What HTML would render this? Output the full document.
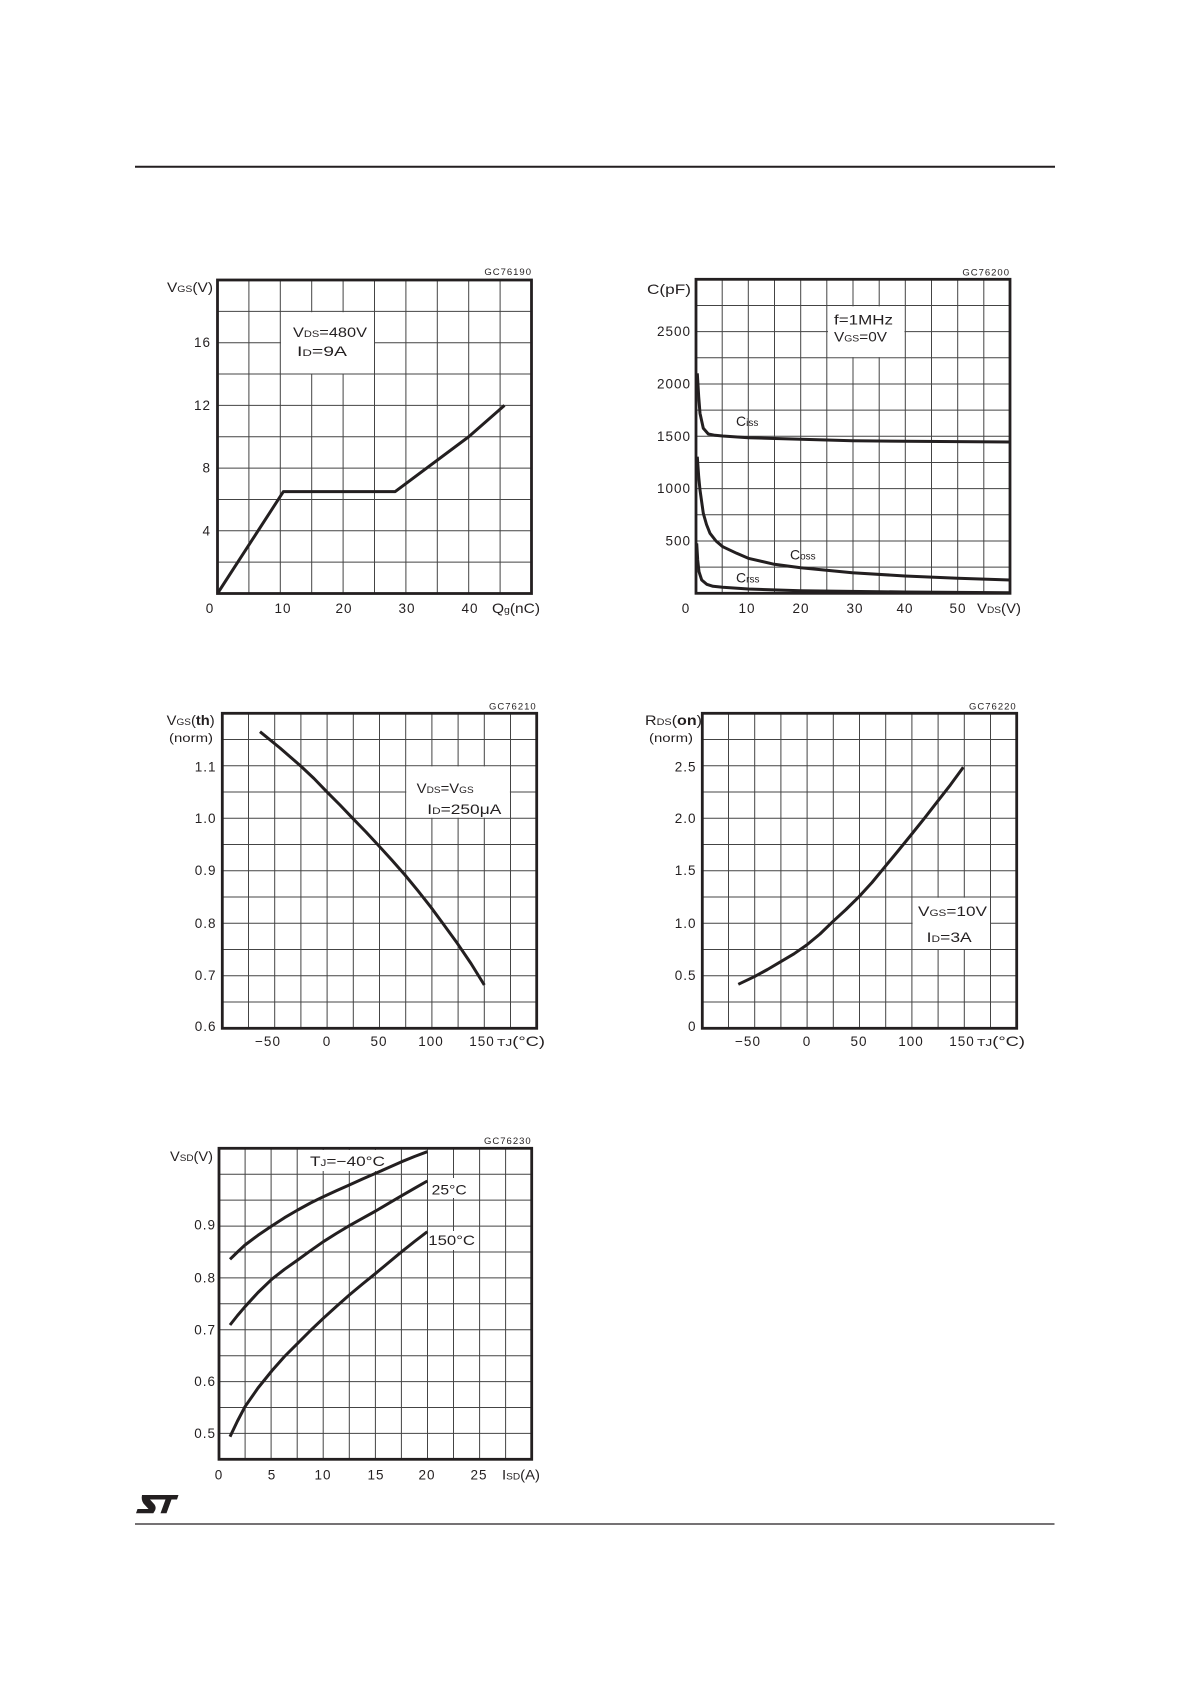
<!DOCTYPE html>
<html><head><meta charset="utf-8"><style>
html,body{margin:0;padding:0;background:#fff;}
svg{display:block;}
text{font-family:"Liberation Sans",Arial,sans-serif;fill:#231f20;}
.t{font-size:13.5px;letter-spacing:1px;}
.l{font-size:14px;}
.a{font-size:14px;}
.gc{font-size:9.5px;letter-spacing:1px;}
.g{stroke:#444;stroke-width:1;fill:none;}
.f{stroke:#231f20;stroke-width:2.8;fill:none;}
.c{stroke:#231f20;stroke-width:3;fill:none;stroke-linejoin:round;stroke-linecap:butt;}
</style></head><body>
<svg width="1191" height="1685" viewBox="0 0 1191 1685" xmlns="http://www.w3.org/2000/svg">
<rect width="1191" height="1685" fill="#fff"/>
<line x1="135" y1="166.7" x2="1055" y2="166.7" stroke="#231f20" stroke-width="2"/>
<line x1="135" y1="1524" x2="1054.5" y2="1524" stroke="#231f20" stroke-width="1.2"/>
<path d="M142,1495 L178.5,1495 L177,1499.5 L171.5,1499.5 L166.5,1513.3 L160.5,1513.3 L165.5,1499.5 L160,1499.5 L150,1499.5 L154.5,1504.5 Q156.5,1507.5 155,1510.5 L153.3,1513.3 L136,1513.3 L137.5,1509 L148.5,1509 L143.5,1503.5 Q141,1500 142,1495 Z" fill="#231f20"/>

<!-- ============ CHART 1 ============ -->
<path class="g" d="M248.9 280V593.5M280.3 280V593.5M311.7 280V593.5M343.1 280V593.5M374.5 280V593.5M405.9 280V593.5M437.3 280V593.5M468.7 280V593.5M500.1 280V593.5M217.5 311.35H531.5M217.5 342.7H531.5M217.5 374.05H531.5M217.5 405.4H531.5M217.5 436.75H531.5M217.5 468.1H531.5M217.5 499.45H531.5M217.5 530.8H531.5M217.5 562.15H531.5"/>
<rect x="281" y="312.2" width="93" height="61.3" fill="#fff"/>
<rect class="f" x="217.5" y="280" width="314" height="313.5"/>
<polyline class="c" points="217.5,593.5 283.4,491.6 395.2,491.6 468.7,436.75 504.5,405.4"/>
<text class="a" x="293" y="337" textLength="74" lengthAdjust="spacingAndGlyphs">V<tspan font-size="9.5">DS</tspan>=480V</text>
<text class="a" x="297" y="356" textLength="50" lengthAdjust="spacingAndGlyphs">I<tspan font-size="9.5">D</tspan>=9A</text>
<text class="l" x="167" y="292" textLength="46" lengthAdjust="spacingAndGlyphs">V<tspan font-size="9.5">GS</tspan>(V)</text>
<text class="gc" x="532" y="275" text-anchor="end">GC76190</text>
<g class="t" text-anchor="end">
<text x="211" y="347">16</text><text x="211" y="410">12</text><text x="211" y="472.5">8</text><text x="211" y="535.3">4</text>
</g>
<g class="t" text-anchor="middle">
<text x="210" y="613">0</text><text x="283" y="613">10</text><text x="344" y="613">20</text><text x="407" y="613">30</text><text x="470" y="613">40</text>
</g>
<text class="l" x="492" y="613" textLength="48" lengthAdjust="spacingAndGlyphs">Q<tspan font-size="9.5">g</tspan>(nC)</text>

<!-- ============ CHART 2 ============ -->
<path class="g" d="M722.2 279.3V593.3M748.3 279.3V593.3M774.5 279.3V593.3M800.7 279.3V593.3M826.8 279.3V593.3M853 279.3V593.3M879.2 279.3V593.3M905.3 279.3V593.3M931.5 279.3V593.3M957.7 279.3V593.3M983.8 279.3V593.3M696 305.5H1010M696 331.6H1010M696 357.8H1010M696 384H1010M696 410.1H1010M696 436.3H1010M696 462.5H1010M696 488.6H1010M696 514.8H1010M696 541H1010M696 567.1H1010"/>
<rect x="828" y="306.3" width="76.5" height="50.8" fill="#fff"/>
<rect class="f" x="696" y="279.3" width="314" height="314"/>
<polyline class="c" points="697.3,373.3 698.7,396.7 700,413.3 703.3,428.3 708.3,434 715,435.3 722.7,436 748.3,437.7 800.7,439.3 852.3,440.7 905,441.3 1010,442"/>
<polyline class="c" points="697.3,456.7 698.7,476.7 700,490 703.3,513.3 706.5,524.5 710,533.3 716,541 722.7,546.7 736.7,553.3 748.3,558.3 774.3,564.3 800.7,567.7 852.3,572.7 905,576 957.7,578.3 1010,580"/>
<polyline class="c" points="696.7,543.3 697.7,560 699,571.7 701.7,580 706.7,584.3 713,586.3 722.7,587.3 748.3,589 800.7,590.7 905,592 1010,592.7"/>
<text class="a" x="834" y="324.5" textLength="59" lengthAdjust="spacingAndGlyphs">f=1MHz</text>
<text class="a" x="834" y="341.5" textLength="53" lengthAdjust="spacingAndGlyphs">V<tspan font-size="9.5">GS</tspan>=0V</text>
<text class="a" x="736" y="426">C<tspan font-size="10">iss</tspan></text>
<text class="a" x="790" y="559.5">C<tspan font-size="10">oss</tspan></text>
<text class="a" x="736" y="582.5">C<tspan font-size="10">rss</tspan></text>
<text class="l" x="647" y="294" textLength="44" lengthAdjust="spacingAndGlyphs">C(pF)</text>
<text class="gc" x="1010" y="275.5" text-anchor="end">GC76200</text>
<g class="t" text-anchor="end">
<text x="691" y="336">2500</text><text x="691" y="388.5">2000</text><text x="691" y="441">1500</text><text x="691" y="493">1000</text><text x="691" y="545.5">500</text>
</g>
<g class="t" text-anchor="middle">
<text x="686" y="613">0</text><text x="747" y="613">10</text><text x="801" y="613">20</text><text x="855" y="613">30</text><text x="905" y="613">40</text><text x="958" y="613">50</text>
</g>
<text class="l" x="977" y="613" textLength="44" lengthAdjust="spacingAndGlyphs">V<tspan font-size="9.5">DS</tspan>(V)</text>

<!-- ============ CHART 3 ============ -->
<path class="g" d="M248.5 713.3V1028.3M274.7 713.3V1028.3M300.9 713.3V1028.3M327.1 713.3V1028.3M353.3 713.3V1028.3M379.5 713.3V1028.3M405.7 713.3V1028.3M431.9 713.3V1028.3M458.1 713.3V1028.3M484.3 713.3V1028.3M510.5 713.3V1028.3M222.3 739.55H536.7M222.3 765.8H536.7M222.3 792.05H536.7M222.3 818.3H536.7M222.3 844.55H536.7M222.3 870.8H536.7M222.3 897.05H536.7M222.3 923.3H536.7M222.3 949.55H536.7M222.3 975.8H536.7M222.3 1002.05H536.7"/>
<rect x="406.3" y="766.4" width="103.6" height="51.3" fill="#fff"/>
<rect class="f" x="222.3" y="713.3" width="314.4" height="315"/>
<polyline class="c" points="260,731.7 280,748 300.7,766 314,778.5 326.7,791.7 340,805 352.7,818.3 366,832 379,846 392,860.3 405,875 418,890.8 431,907.3 444,925 457.3,943.3 471,963.5 484.3,985"/>
<text class="a" x="416.7" y="793" textLength="57" lengthAdjust="spacingAndGlyphs">V<tspan font-size="9.5">DS</tspan>=V<tspan font-size="9.5">GS</tspan></text>
<text class="a" x="427.3" y="814" textLength="74" lengthAdjust="spacingAndGlyphs">I<tspan font-size="9.5">D</tspan>=250μA</text>
<text class="l" x="166.7" y="725" textLength="48" lengthAdjust="spacingAndGlyphs">V<tspan font-size="9.5">GS</tspan>(<tspan font-weight="bold">th</tspan>)</text>
<text x="169" y="742" font-size="11.5" textLength="44" lengthAdjust="spacingAndGlyphs">(norm)</text>
<text class="gc" x="536.7" y="709.5" text-anchor="end">GC76210</text>
<g class="t" text-anchor="end">
<text x="216.5" y="771.5">1.1</text><text x="216.5" y="823">1.0</text><text x="216.5" y="875">0.9</text><text x="216.5" y="928">0.8</text><text x="216.5" y="980">0.7</text><text x="216.5" y="1031">0.6</text>
</g>
<g class="t" text-anchor="middle">
<text x="268" y="1046">−50</text><text x="327" y="1046">0</text><text x="379" y="1046">50</text><text x="431" y="1046">100</text><text x="482" y="1046">150</text>
</g>
<text class="l" x="497" y="1046" textLength="48" lengthAdjust="spacingAndGlyphs"><tspan font-size="10.5">TJ</tspan>(°C)</text>

<!-- ============ CHART 4 ============ -->
<path class="g" d="M728.5 713.3V1028.3M754.7 713.3V1028.3M780.9 713.3V1028.3M807.1 713.3V1028.3M833.3 713.3V1028.3M859.5 713.3V1028.3M885.7 713.3V1028.3M911.9 713.3V1028.3M938.1 713.3V1028.3M964.3 713.3V1028.3M990.5 713.3V1028.3M702.3 739.55H1016.7M702.3 765.8H1016.7M702.3 792.05H1016.7M702.3 818.3H1016.7M702.3 844.55H1016.7M702.3 870.8H1016.7M702.3 897.05H1016.7M702.3 923.3H1016.7M702.3 949.55H1016.7M702.3 975.8H1016.7M702.3 1002.05H1016.7"/>
<rect x="912.6" y="897.7" width="77.4" height="51.3" fill="#fff"/>
<rect class="f" x="702.3" y="713.3" width="314.4" height="315"/>
<polyline class="c" points="738.3,984.3 754.3,976.7 767.5,969.5 780.7,961.7 794,953.8 806.7,945 820,934 832.7,921.7 846,909.5 859,896.7 872,882.5 885,866.7 898,851 911,835 924,818.8 937.3,801.7 950.5,784.8 963.3,767.3"/>
<text class="a" x="918" y="916" textLength="69" lengthAdjust="spacingAndGlyphs">V<tspan font-size="9.5">GS</tspan>=10V</text>
<text class="a" x="926.7" y="942" textLength="45" lengthAdjust="spacingAndGlyphs">I<tspan font-size="9.5">D</tspan>=3A</text>
<text class="l" x="645" y="725" textLength="57" lengthAdjust="spacingAndGlyphs">R<tspan font-size="9.5">DS</tspan>(<tspan font-weight="bold">on</tspan>)</text>
<text x="649" y="742" font-size="11.5" textLength="44" lengthAdjust="spacingAndGlyphs">(norm)</text>
<text class="gc" x="1016.7" y="709.5" text-anchor="end">GC76220</text>
<g class="t" text-anchor="end">
<text x="696.5" y="771.5">2.5</text><text x="696.5" y="823">2.0</text><text x="696.5" y="875">1.5</text><text x="696.5" y="928">1.0</text><text x="696.5" y="980">0.5</text><text x="696.5" y="1031">0</text>
</g>
<g class="t" text-anchor="middle">
<text x="748" y="1046">−50</text><text x="807" y="1046">0</text><text x="859" y="1046">50</text><text x="911" y="1046">100</text><text x="962" y="1046">150</text>
</g>
<text class="l" x="977" y="1046" textLength="48" lengthAdjust="spacingAndGlyphs"><tspan font-size="10.5">TJ</tspan>(°C)</text>

<!-- ============ CHART 5 ============ -->
<path class="g" d="M245.1 1148.3V1459.3M271.1 1148.3V1459.3M297.2 1148.3V1459.3M323.2 1148.3V1459.3M349.3 1148.3V1459.3M375.4 1148.3V1459.3M401.4 1148.3V1459.3M427.5 1148.3V1459.3M453.5 1148.3V1459.3M479.6 1148.3V1459.3M505.6 1148.3V1459.3M219 1174.2H531.7M219 1200.1H531.7M219 1226.1H531.7M219 1252H531.7M219 1277.9H531.7M219 1303.8H531.7M219 1329.8H531.7M219 1355.7H531.7M219 1381.6H531.7M219 1407.5H531.7M219 1433.4H531.7"/>
<rect x="306" y="1150" width="80" height="21" fill="#fff"/>
<rect x="430" y="1178" width="38" height="20" fill="#fff"/>
<rect x="429" y="1231" width="47" height="19" fill="#fff"/>
<rect class="f" x="219" y="1148.3" width="312.7" height="311"/>
<polyline class="c" points="230,1259.3 237.5,1252 245,1245 258,1235.3 271.7,1226 284.5,1217.7 297.7,1210 310.5,1203 323.3,1196.7 336.3,1190.8 349.3,1185 362.5,1179 375.7,1173.3 388.7,1167.5 401.7,1161.7 414.5,1156.5 427.3,1151.7"/>
<polyline class="c" points="230,1325 237.5,1315.5 245,1306.7 258,1292.5 271.7,1279.3 284.5,1269.3 297.7,1260 310.5,1250.7 323.3,1241.7 336.3,1233.5 349.3,1225.7 362.5,1218.3 375.7,1211 388.7,1203.3 401.7,1195.7 414.5,1188.3 427.3,1181"/>
<polyline class="c" points="230,1436.7 237.5,1421 245,1406.7 258,1388 271.7,1371 284.5,1356.5 297.7,1343.3 310.5,1330.5 323.3,1318.3 336.3,1306.5 349.3,1295 362.5,1284 375.7,1273.3 388.7,1262.5 401.7,1251.7 414.5,1241.5 427.3,1231.7"/>
<text class="a" x="310" y="1166" textLength="75" lengthAdjust="spacingAndGlyphs">T<tspan font-size="9.5">J</tspan>=−40°C</text>
<text class="a" x="431.7" y="1194.5" textLength="35" lengthAdjust="spacingAndGlyphs">25°C</text>
<text class="a" x="428.3" y="1245" textLength="46.7" lengthAdjust="spacingAndGlyphs">150°C</text>
<text class="l" x="170" y="1161" textLength="43" lengthAdjust="spacingAndGlyphs">V<tspan font-size="9.5">SD</tspan>(V)</text>
<text class="gc" x="531.7" y="1144" text-anchor="end">GC76230</text>
<g class="t" text-anchor="end">
<text x="216" y="1229.5">0.9</text><text x="216" y="1282.5">0.8</text><text x="216" y="1334.5">0.7</text><text x="216" y="1386">0.6</text><text x="216" y="1438">0.5</text>
</g>
<g class="t" text-anchor="middle">
<text x="219" y="1479.5">0</text><text x="272" y="1479.5">5</text><text x="323" y="1479.5">10</text><text x="376" y="1479.5">15</text><text x="427" y="1479.5">20</text><text x="479" y="1479.5">25</text>
</g>
<text class="l" x="502" y="1479.5" textLength="38" lengthAdjust="spacingAndGlyphs">I<tspan font-size="9.5">SD</tspan>(A)</text>
</svg>
</body></html>
